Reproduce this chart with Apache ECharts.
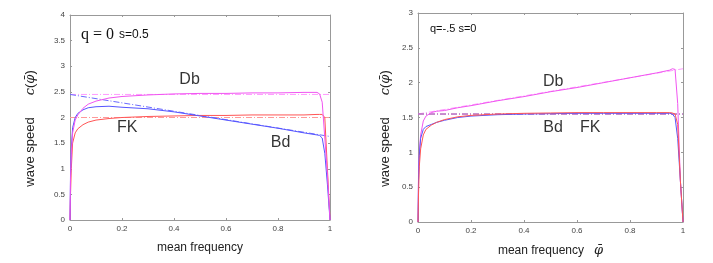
<!DOCTYPE html>
<html><head><meta charset="utf-8">
<script src="https://cdn.jsdelivr.net/npm/echarts@6/dist/echarts.min.js"></script>
<style>html,body{margin:0;padding:0;background:#fff}#c{width:713px;height:263px}</style>
</head><body><div id="c"></div>
<script>
// shared sample positions (mean frequency)
var xs = [0,0.002,0.005,0.01,0.02,0.03,0.05,0.07,0.1,0.15,0.2,0.3,0.4,0.5,0.6,0.7,0.8,0.9,0.95,0.96,0.97,0.98,0.99,1];
// Left panel: q = 0, s = 0.5
var leftDb = [0,0.8,1.3,1.7,1.95,2.05,2.18,2.26,2.32,2.38,2.41,2.44,2.46,2.47,2.47,2.48,2.48,2.49,2.49,2.46,2.3,1.6,0.9,0];
var leftBd = [0,0.9,1.4,1.8,2.0,2.08,2.15,2.19,2.21,2.22,2.2,2.17,2.11,2.03,1.95,1.87,1.79,1.70,1.66,1.65,1.6,1.3,0.7,0];
var leftFK = [0,0.5,1.0,1.5,1.7,1.78,1.86,1.91,1.95,1.98,2.0,2.02,2.03,2.04,2.04,2.05,2.05,2.05,2.06,2.06,2.06,2.0,1.0,0];
var leftDbRefX = [0,1], leftDbRef = [2.45,2.45];
var leftFKRefX = [0,1], leftFKRef = [2.0,2.0];
var leftBdRefX = [0,1], leftBdRef = [2.45,1.63];
// Right panel: q = -.5, s = 0
var rightDb = [0,0.7,1.0,1.25,1.45,1.52,1.57,1.59,1.6,1.64,1.67,1.74,1.8,1.87,1.93,2.0,2.07,2.14,2.18,2.2,2.19,1.7,0.6,0];
var rightBd = [0,0.6,0.95,1.2,1.33,1.37,1.4,1.43,1.46,1.5,1.52,1.54,1.55,1.555,1.56,1.56,1.56,1.56,1.56,1.55,1.5,1.2,0.6,0];
var rightFK = [0,0.4,0.8,1.05,1.25,1.33,1.39,1.43,1.47,1.51,1.53,1.55,1.56,1.565,1.57,1.57,1.57,1.57,1.57,1.565,1.55,1.4,0.6,0];
var rightDbRefX = [0,1], rightDbRef = [1.55,2.2];
var rightFKRefX = [0,1], rightFKRef = [1.55,1.55];
var rightBdRefX = [0,1], rightBdRef = [1.55,1.55];
// tick ranges
var leftYMax = 4, rightYMax = 3, yStep = 0.5, xStep = 0.2;
// annotation positions (data coords) and texts
var leftNotes = [["Db",0.46,2.73],["FK",0.22,1.80],["Bd",0.81,1.52]];
var rightNotes = [["Db",0.51,2.02],["Bd",0.51,1.35],["FK",0.65,1.35]];

function pairs(x,y){return x.map(function(v,i){return [v,y[i]];});}
var C = {db:'#f055f0', dbRef:'#ff99ff', fk:'#ff5555', fkRef:'#ff9999', bd:'#5555ff', bdRef:'#6a6aff', bdRefR:'#9050d0'};
var dashdot = [6,2,1,2];
var axisCol = '#999';
var FONT = 'Liberation Sans';
var SERIF = 'DejaVu Serif';
var nameRichY = {a:{fontSize:13,fontFamily:FONT,color:'#222'}, c:{fontSize:13,fontStyle:'italic',fontFamily:SERIF,color:'#222'}, p:{fontSize:13,fontStyle:'italic',fontFamily:SERIF,color:'#222'}, sp:{fontSize:13,fontFamily:FONT,width:22}};
var nameRichX = {a:{fontSize:12,fontFamily:FONT,color:'#222'}, p:{fontSize:13,fontStyle:'italic',fontFamily:SERIF,color:'#222'}};

function xAx(g, top, name, nameRich){
  return {type:'value', gridIndex:g, position: top?'top':'bottom', min:0, max:1, interval:xStep,
    axisLine:{show:true, onZero:false, lineStyle:{color:axisCol,width:1}},
    axisTick:{show:true, inside:true, length:2, lineStyle:{color:axisCol}},
    axisLabel:{show:!top, fontSize:8, color:'#444', margin:5, fontFamily:FONT},
    splitLine:{show:false},
    name: top?'':name, nameLocation:'middle', nameGap:22,
    nameTextStyle:{fontSize:12, color:'#222', fontFamily:FONT, rich:nameRich}};
}
function yAx(g, right, max, nameGap){
  return {type:'value', gridIndex:g, position: right?'right':'left', min:0, max:max, interval:yStep,
    axisLine:{show:true, onZero:false, lineStyle:{color:axisCol,width:1}},
    axisTick:{show:true, inside:true, length:2, lineStyle:{color:axisCol}},
    axisLabel:{show:!right, fontSize:8, color:'#444', margin:5, fontFamily:FONT},
    splitLine:{show:false},
    name: right?'':'{a|wave speed}{sp| }{c|c}{a|(}{p|φ̄}{a|)}{sp| }', nameLocation:'middle', nameRotate:90, nameGap:nameGap,
    nameTextStyle:{fontSize:13, color:'#222', fontFamily:FONT, rich:nameRichY}};
}
function line(xi, yi, x, y, color, dashed){
  return {type:'line', xAxisIndex:xi, yAxisIndex:yi, data:pairs(x,y), showSymbol:false, symbol:'none',
    lineStyle:{color:color, width:1, type: dashed?dashdot:'solid'}, itemStyle:{color:color}, silent:true, animation:false, z: dashed?2:3};
}
function notes(xi, yi, arr){
  return {type:'scatter', xAxisIndex:xi, yAxisIndex:yi, symbolSize:0, silent:true, animation:false,
    data: arr.map(function(n){return {value:[n[1],n[2]], name:n[0]};}),
    label:{show:true, position:'inside', formatter:'{b}', fontSize:16, color:'#000', fontFamily:FONT}};
}

var option = {
  backgroundColor:'#fff',
  animation:false,
  grid:[{left:70, right:383, top:15, bottom:43}, {left:418, right:30, top:13, bottom:41}],
  title:[
    {left:76, top:21, text:'{q|q = 0} {s|s=0.5}', textStyle:{fontWeight:'normal', rich:{q:{fontSize:16,fontWeight:'normal',fontFamily:'Liberation Serif',color:'#111'}, s:{fontSize:12,fontWeight:'normal',fontFamily:FONT,color:'#111'}}}},
    {left:425, top:18, text:'q=-.5 s=0', textStyle:{fontSize:11, fontWeight:'normal', fontFamily:FONT, color:'#111'}}
  ],
  xAxis:[xAx(0,false,'mean frequency'), xAx(0,true,''),
         xAx(1,false,'{a|mean frequency}   {p|φ̄}', nameRichX), xAx(1,true,'')],
  yAxis:[yAx(0,false,leftYMax,33), yAx(0,true,leftYMax,0), yAx(1,false,rightYMax,26), yAx(1,true,rightYMax,0)],
  series:[
    line(0,0,leftDbRefX,leftDbRef,C.dbRef,true),
    line(0,0,leftFKRefX,leftFKRef,C.fkRef,true),
    line(0,0,leftBdRefX,leftBdRef,C.bdRef,true),
    line(0,0,xs,leftFK,C.fk,false),
    line(0,0,xs,leftBd,C.bd,false),
    line(0,0,xs,leftDb,C.db,false),
    notes(0,0,leftNotes),
    line(2,2,rightDbRefX,rightDbRef,C.dbRef,true),
    line(2,2,rightFKRefX,rightFKRef,C.fkRef,true),
    line(2,2,rightBdRefX,rightBdRef,C.bdRefR,true),
    line(2,2,xs,rightDb,C.db,false),
    line(2,2,xs,rightBd,C.bd,false),
    line(2,2,xs,rightFK,C.fk,false),
    notes(2,2,rightNotes)
  ]
};
var chart = echarts.init(document.getElementById('c'), null, {renderer:'canvas'});
chart.setOption(option);
</script></body></html>
